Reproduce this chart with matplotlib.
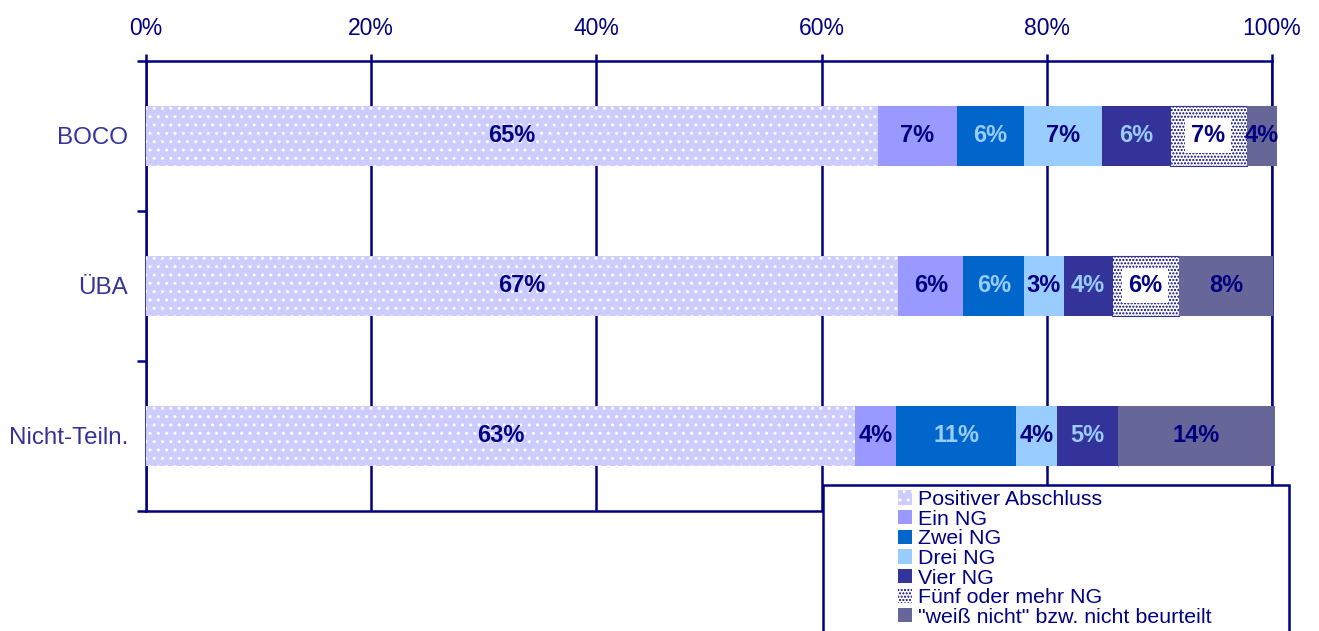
import matplotlib.pyplot as plt
from matplotlib.patches import Patch, Rectangle

plt.rcParams['font.family'] = ['Liberation Sans', 'DejaVu Sans']
plt.rcParams['hatch.linewidth'] = 1.0

# data (percent)
groups = ["BOCO", "ÜBA", "Nicht-Teiln."]
series = ["Positiver Abschluss", "Ein NG", "Zwei NG", "Drei NG", "Vier NG",
          "Fünf oder mehr NG", '"weiß nicht" bzw. nicht beurteilt']
positiv = [65.0, 66.8, 63.0]
ein = [7.0, 5.8, 3.6]
zwei = [6.0, 5.4, 10.7]
drei = [6.9, 3.5, 3.6]
vier = [6.0, 4.3, 5.4]
fuenf = [6.9, 5.9, 0.0]
weiss = [2.6, 8.4, 14.0]
# labels as printed in the chart
labels = [["65%", "7%", "6%", "7%", "6%", "7%", "4%"],
          ["67%", "6%", "6%", "3%", "4%", "6%", "8%"],
          ["63%", "4%", "11%", "4%", "5%", "", "14%"]]
xticks = [0, 20, 40, 60, 80, 100]

navy = "#000080"
colors = ["#CCCCFF", "#9999FF", "#0066CC", "#99CCFF", "#333399", "#FFFFFF", "#666699"]
hatches = ["..", None, None, None, None, ".....", None]
hatch_cols = ["white", None, None, None, None, navy, None]
text_cols = [navy, navy, "#99CCFF", navy, "#99CCFF", navy, navy]

values = [positiv, ein, zwei, drei, vier, fuenf, weiss]

fig = plt.figure(figsize=(13.19, 6.31), dpi=100)
ax = fig.add_axes([146 / 1319, 1 - 511 / 631, 1126 / 1319, 450 / 631])

ypos = list(range(len(groups)))
left = [0.0] * len(groups)
for k, vals in enumerate(values):
    ax.barh(ypos, vals, left=left, height=0.4, color=colors[k], linewidth=0,
            zorder=3, clip_on=False)
    if hatches[k]:
        ax.barh(ypos, vals, left=left, height=0.4, color="none",
                edgecolor=hatch_cols[k], hatch=hatches[k], linewidth=0,
                zorder=3, clip_on=False)
    if k == 5:
        ax.barh(ypos, vals, left=left, height=0.4, color="none",
                edgecolor="#333399", linewidth=0.8, zorder=3, clip_on=False)
    for i in ypos:
        if labels[i][k]:
            box = None
            if k == 5:
                box = dict(boxstyle="square,pad=0.25", fc="white", ec="none")
            ax.text(left[i] + vals[i] / 2, i, labels[i][k], ha="center", va="center",
                    fontsize=17, fontweight="bold", color=text_cols[k], zorder=5, bbox=box)
    left = [a + b for a, b in zip(left, vals)]

ax.set_xlim(0, 100)
ax.set_ylim(2.5, -0.5)
ax.xaxis.tick_top()
ax.set_xticks(xticks)
ax.set_xticklabels([f"{t}%" for t in xticks])
ax.tick_params(axis="x", colors=navy, labelcolor=navy, labelsize=16.5, length=5,
               width=1.8, pad=10)
ax.set_yticks([-0.5, 0.5, 1.5, 2.5])
ax.set_yticklabels([])
ax.set_yticks(ypos, minor=True)
ax.set_yticklabels(groups, minor=True)
ax.tick_params(axis="y", which="major", colors=navy, length=6.5, width=1.8)
ax.tick_params(axis="y", which="minor", length=0, pad=13, labelsize=17.4,
               labelcolor="#333399")
ax.grid(axis="x", color=navy, linewidth=1.8, zorder=1)
ax.set_axisbelow(True)
for s in ["top", "bottom", "left", "right"]:
    ax.spines[s].set_color(navy)
    ax.spines[s].set_linewidth(1.8)

# legend box
fig.patches.append(Rectangle((823 / 1319, 1 - 660 / 631), 466 / 1319, 175 / 631,
                             transform=fig.transFigure, fc="white", ec=navy,
                             lw=1.8, zorder=10))
handles = []
for k in range(len(series)):
    h = Patch(facecolor=colors[k], edgecolor=hatch_cols[k] or colors[k],
              hatch=hatches[k], linewidth=0)
    handles.append(h)
leg = fig.legend(handles, series, loc="upper left",
                 bbox_to_anchor=(898 / 1319, 1 - 490 / 631), frameon=False,
                 fontsize=15.4, labelspacing=0.03, handlelength=0.65,
                 handleheight=0.65, handletextpad=0.3, borderpad=0, borderaxespad=0)
leg.set_zorder(11)
for t in leg.get_texts():
    t.set_color(navy)

fig.savefig("out.png", dpi=100)
